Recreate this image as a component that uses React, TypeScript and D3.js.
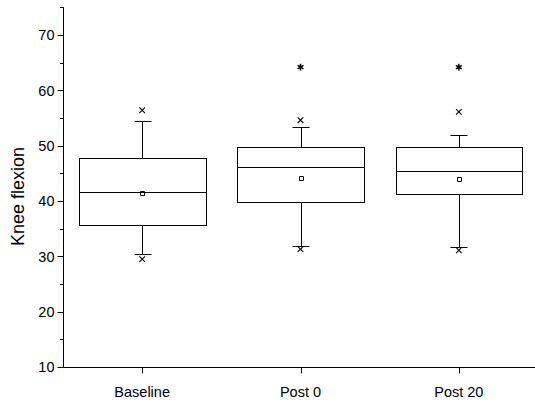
import * as d3 from "d3";
import React from "react";

const categories = ["Baseline", "Post 0", "Post 20"];
const q1 = [35.6, 39.9, 41.2];
const median = [41.6, 46.1, 45.5];
const q3 = [47.7, 49.7, 49.8];
const whiskerLow = [30.4, 31.9, 31.6];
const whiskerHigh = [54.5, 53.4, 52.0];
const mean = [41.5, 44.2, 44.0];
const minMark = [29.5, 31.3, 31.1];
const maxMark = [56.4, 54.6, 56.1];
const outliers: (number | null)[] = [null, 64.2, 64.2];
const yTicks = [10, 20, 30, 40, 50, 60, 70];
const yMinorTicks = [15, 25, 35, 45, 55, 65, 75];

const W = 535;
const H = 402;
const font = "'Liberation Sans', Arial, sans-serif";

export default function App() {
  const y = d3.scaleLinear().domain([10, 75]).range([367, 7.33]);
  const x = d3.scaleBand().domain(categories).range([63, 538]);
  const bw = x.bandwidth();
  const boxW = bw * 0.8;
  const capW = 17;
  const cx = (c: string) => (x(c) ?? 0) + bw / 2;
  const r = (v: number) => Math.round(v) + 0.5;

  const times = d3.symbol(d3.symbolTimes, 22)() ?? "";
  const star = d3.symbol(d3.symbolAsterisk, 32)() ?? "";
  const square = d3.symbol(d3.symbolSquare2, 20)() ?? "";

  const axisX = 63.5;
  const axisY = r(y(10));

  return (
    <svg width={W} height={H} style={{ position: "absolute", left: 0, top: 0, background: "#fff" }}>
      {/* y axis */}
      <line x1={axisX} x2={axisX} y1={y(75)} y2={axisY} stroke="#000" />
      {yTicks.map((t) => (
        <g key={t}>
          <line x1={axisX - 6} x2={axisX} y1={r(y(t))} y2={r(y(t))} stroke="#000" />
          <text x={axisX - 9} y={y(t)} dy="0.36em" textAnchor="end" fontSize={14.5} fontFamily={font}>
            {t}
          </text>
        </g>
      ))}
      {yMinorTicks.map((t) => (
        <line key={t} x1={axisX - 3.5} x2={axisX} y1={r(y(t))} y2={r(y(t))} stroke="#000" />
      ))}
      <text
        transform={`translate(24,${y(40.8)}) rotate(-90)`}
        textAnchor="middle"
        fontSize={18}
        fontFamily={font}
      >
        Knee flexion
      </text>

      {/* x axis */}
      <line x1={axisX} x2={W} y1={axisY} y2={axisY} stroke="#000" />
      {categories.map((c) => (
        <g key={c}>
          <line x1={r(cx(c))} x2={r(cx(c))} y1={axisY} y2={axisY + 6} stroke="#000" />
          <text x={cx(c)} y={392} dy="0.36em" textAnchor="middle" fontSize={14.5} fontFamily={font}>
            {c}
          </text>
        </g>
      ))}

      {/* boxes */}
      {categories.map((c, i) => {
        const m = cx(c);
        const left = r(m - boxW / 2);
        const right = r(m + boxW / 2);
        return (
          <g key={c} stroke="#000" fill="none">
            <line x1={r(m)} x2={r(m)} y1={r(y(q3[i]))} y2={r(y(whiskerHigh[i]))} />
            <line x1={r(m)} x2={r(m)} y1={r(y(q1[i]))} y2={r(y(whiskerLow[i]))} />
            <line x1={r(m - capW / 2)} x2={r(m + capW / 2)} y1={r(y(whiskerHigh[i]))} y2={r(y(whiskerHigh[i]))} />
            <line x1={r(m - capW / 2)} x2={r(m + capW / 2)} y1={r(y(whiskerLow[i]))} y2={r(y(whiskerLow[i]))} />
            <rect x={left} y={r(y(q3[i]))} width={right - left} height={r(y(q1[i])) - r(y(q3[i]))} fill="#fff" />
            <line x1={left} x2={right} y1={r(y(median[i]))} y2={r(y(median[i]))} />
            <path d={square} transform={`translate(${r(m)},${r(y(mean[i]))})`} strokeWidth={1} />
            <path d={times} transform={`translate(${m},${y(minMark[i])})`} strokeWidth={1.1} />
            <path d={times} transform={`translate(${m},${y(maxMark[i])})`} strokeWidth={1.1} />
            {outliers[i] !== null && (
              <path d={star} transform={`translate(${m},${y(outliers[i] as number)})`} strokeWidth={1.5} />
            )}
          </g>
        );
      })}
    </svg>
  );
}
